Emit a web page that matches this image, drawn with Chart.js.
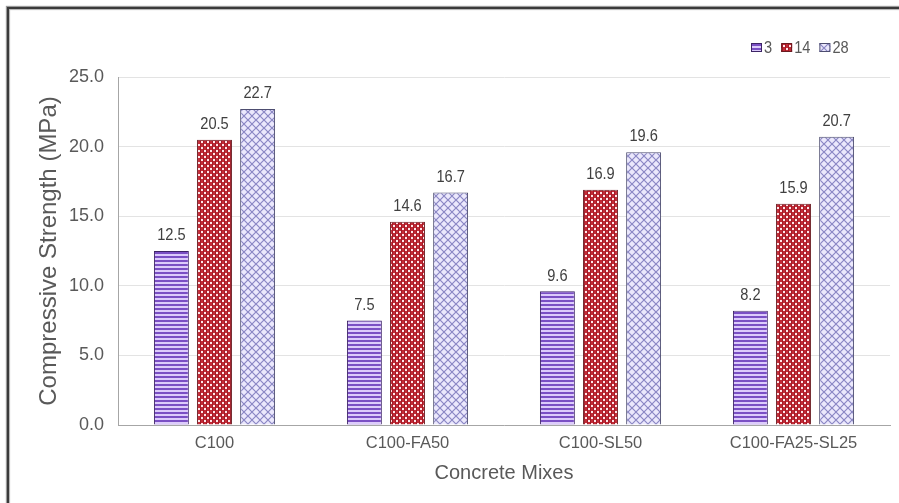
<!DOCTYPE html>
<html>
<head>
<meta charset="utf-8">
<script src="https://cdn.jsdelivr.net/npm/chart.js@4/dist/chart.umd.min.js"></script>
<style>
  html, body { margin: 0; padding: 0; background: #fff; overflow: hidden; }
  #wrap { position: relative; width: 899px; height: 503px; }
  #frame {
    position: absolute; left: 7px; top: 7px; width: 920px; height: 520px;
    border-top: 2px solid #3a3a3a; border-left: 2px solid #3a3a3a;
    box-shadow: -1px -1px 1px #9a9a9a, inset 1px 1px 1px #b0b0b0;
  }
  canvas { position: absolute; left: 0; top: 0; }
</style>
</head>
<body>
<div id="wrap">
  <div id="frame"></div>
  <canvas id="chart" width="899" height="503"></canvas>
</div>
<script>
// Compressive strength of the concrete mixes at 3, 14 and 28 days
const mixes = ['C100', 'C100-FA50', 'C100-SL50', 'C100-FA25-SL25'];
const ages = ['3', '14', '28'];
const strength3 = [12.5, 7.5, 9.6, 8.2];
const strength14 = [20.5, 14.6, 16.9, 15.9];
const strength28 = [22.7, 16.7, 19.6, 20.7];
const yTicks = [0, 5, 10, 15, 20, 25];

const FONT = "'Liberation Sans', Arial, sans-serif";
const TEXT = '#595959';

// Fill patterns for the three bar series
function makePattern(size, paint) {
  const c = document.createElement('canvas');
  c.width = size; c.height = size;
  const g = c.getContext('2d');
  paint(g, size);
  return g.createPattern(c, 'repeat');
}
const stripePattern = makePattern(4, (g, s) => {
  g.fillStyle = '#dccbfb'; g.fillRect(0, 0, s, s);
  g.fillStyle = '#7a4fc4'; g.fillRect(0, 0, s, 2);
});
const dotPattern = makePattern(6, (g, s) => {
  g.fillStyle = '#c42a36'; g.fillRect(0, 0, s, s);
  g.fillStyle = '#a01c28'; g.fillRect(2, 0, 1, 6); g.fillRect(5, 0, 1, 6);
  g.fillStyle = '#ffe6ea'; g.fillRect(0, 0, 2, 2); g.fillRect(3, 3, 2, 2);
});
const hatchPattern = makePattern(8, (g, s) => {
  g.fillStyle = '#ebe8fc'; g.fillRect(0, 0, s, s);
  g.strokeStyle = '#8a86c4'; g.lineWidth = 1.2;
  g.beginPath();
  g.moveTo(-1, -1); g.lineTo(s + 1, s + 1);
  g.moveTo(s + 1, -1); g.lineTo(-1, s + 1);
  g.stroke();
});

const seriesValues = [strength3, strength14, strength28];
const fills = [stripePattern, dotPattern, hatchPattern];
const borders = ['#3d2466', '#6a1a20', '#4d4d70'];

const datasets = ages.map((age, i) => ({
  label: age,
  data: seriesValues[i],
  backgroundColor: fills[i],
  borderColor: borders[i],
  borderWidth: 1,
  categoryPercentage: 0.67,
  barPercentage: 0.81
}));

// Narrow text helper: draws with a horizontal squeeze
function narrowText(ctx, text, x, y, squeeze) {
  ctx.save();
  ctx.translate(x, y);
  ctx.scale(squeeze, 1);
  ctx.fillText(text, 0, 0);
  ctx.restore();
}

// Value labels above each bar
const valueLabels = {
  id: 'valueLabels',
  afterDatasetsDraw(chart) {
    const ctx = chart.ctx;
    ctx.save();
    ctx.font = '17px ' + FONT;
    ctx.fillStyle = '#404040';
    ctx.textAlign = 'center';
    ctx.textBaseline = 'bottom';
    chart.data.datasets.forEach((ds, di) => {
      chart.getDatasetMeta(di).data.forEach((bar, i) => {
        narrowText(ctx, ds.data[i].toFixed(1), bar.x, bar.y - 7, 0.86);
      });
    });
    ctx.restore();
  }
};

// Compact legend in the top-right corner
const cornerLegend = {
  id: 'cornerLegend',
  afterDraw(chart) {
    const ctx = chart.ctx;
    ctx.save();
    ctx.font = '17px ' + FONT;
    ctx.textBaseline = 'middle';
    ctx.textAlign = 'left';
    let x = 751;
    const y = 47;
    chart.data.datasets.forEach(ds => {
      ctx.fillStyle = ds.backgroundColor;
      ctx.fillRect(x, y - 4, 11, 9);
      ctx.strokeStyle = ds.borderColor;
      ctx.lineWidth = 1;
      ctx.strokeRect(x + 0.5, y - 3.5, 10, 8);
      ctx.fillStyle = TEXT;
      narrowText(ctx, ds.label, x + 13, y + 1, 0.86);
      x += 13 + ctx.measureText(ds.label).width * 0.86 + 9;
    });
    ctx.restore();
  }
};

new Chart(document.getElementById('chart'), {
  type: 'bar',
  data: { labels: mixes, datasets },
  options: {
    responsive: false,
    animation: false,
    layout: { padding: { top: 77, right: 9, bottom: 0, left: 0 } },
    plugins: { legend: { display: false }, tooltip: { enabled: false } },
    scales: {
      x: {
        afterFit(scale) { scale.height = 78; },
        grid: { display: false, drawTicks: false },
        border: { display: true, color: '#a6a6a6', width: 1 },
        ticks: { color: TEXT, font: { family: FONT, size: 16.5 }, padding: 9 },
        title: {
          display: true, text: 'Concrete Mixes', color: TEXT,
          font: { family: FONT, size: 20 }, padding: { top: 0, bottom: 18 }
        }
      },
      y: {
        min: 0, max: 25,
        afterFit(scale) { scale.width = 118; },
        afterBuildTicks(scale) { scale.ticks = yTicks.map(v => ({ value: v })); },
        grid: { color: '#e3e3e3', drawTicks: false, lineWidth: 1 },
        border: { display: true, color: '#a6a6a6', width: 1 },
        ticks: {
          color: TEXT, font: { family: FONT, size: 18 }, padding: 14,
          callback: v => Number(v).toFixed(1)
        },
        title: {
          display: true, text: 'Compressive Strength (MPa)', color: TEXT,
          font: { family: FONT, size: 24 }, padding: { top: 35, bottom: 0 }
        }
      }
    }
  },
  plugins: [valueLabels, cornerLegend]
});
</script>
</body>
</html>
